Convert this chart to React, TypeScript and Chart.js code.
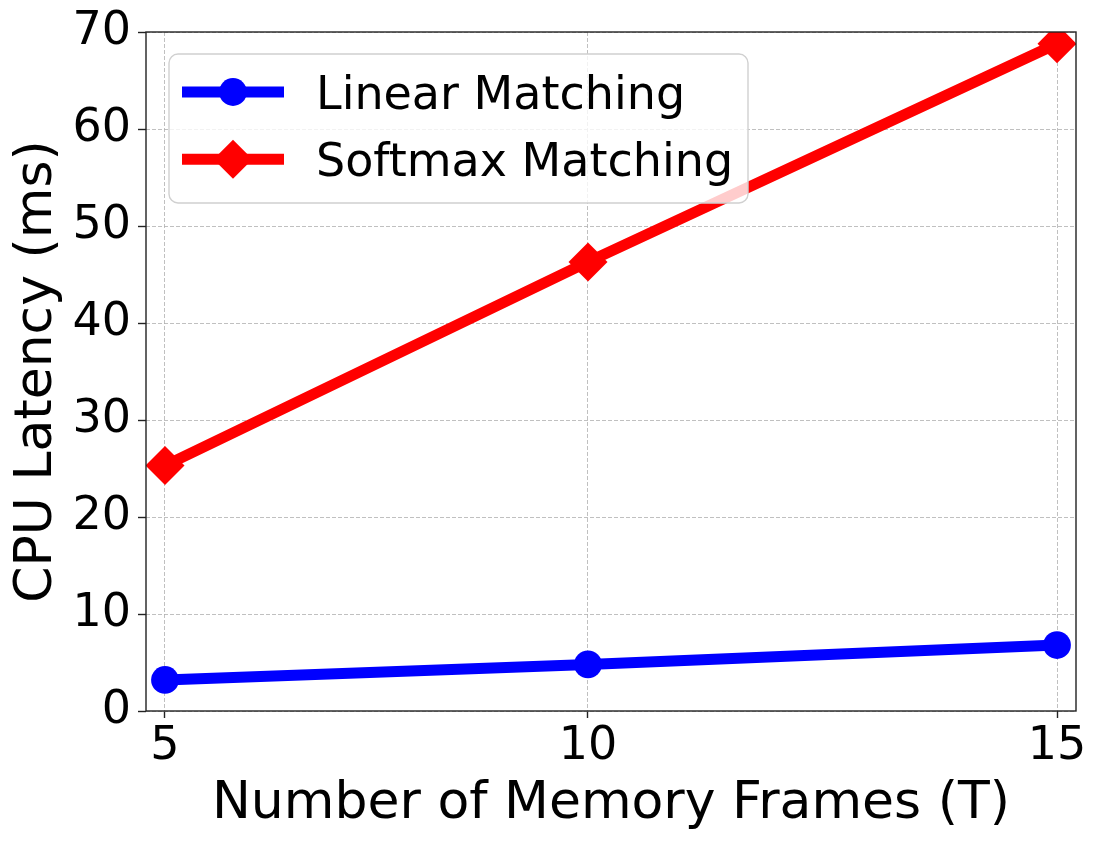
import React, { useEffect, useRef } from "react";
import { Chart, registerables } from "chart.js";

Chart.register(...registerables);

// ---- data ----
const frameLabels = ["5", "10", "15"];
// positions of the three frame counts on the (linear) x axis
const framePositions = [5, 9.742, 15];
const linearMatching = [3.2, 4.8, 6.8];
const softmaxMatching = [25.3, 46.3, 68.8];
const seriesNames = ["Linear Matching", "Softmax Matching"];
const xTitle = "Number of Memory Frames (T)";
const yTitle = "CPU Latency (ms)";

const FONT = "'DejaVu Sans', 'Liberation Sans', sans-serif";

const framePlugin = {
  id: "frameAndLegend",
  afterDatasetsDraw(chart: any) {
    const { ctx, chartArea } = chart;
    const { left, top, right, bottom } = chartArea;
    ctx.save();
    // spines
    ctx.strokeStyle = "#222222";
    ctx.lineWidth = 1.4;
    ctx.setLineDash([]);
    ctx.strokeRect(left, top, right - left, bottom - top);

    // legend box
    const bx = left + 23;
    const by = top + 22;
    const bw = 579;
    const bh = 149;
    const r = 9;
    ctx.beginPath();
    ctx.moveTo(bx + r, by);
    ctx.lineTo(bx + bw - r, by);
    ctx.arcTo(bx + bw, by, bx + bw, by + r, r);
    ctx.lineTo(bx + bw, by + bh - r);
    ctx.arcTo(bx + bw, by + bh, bx + bw - r, by + bh, r);
    ctx.lineTo(bx + r, by + bh);
    ctx.arcTo(bx, by + bh, bx, by + bh - r, r);
    ctx.lineTo(bx, by + r);
    ctx.arcTo(bx, by, bx + r, by, r);
    ctx.closePath();
    ctx.fillStyle = "rgba(255,255,255,0.8)";
    ctx.fill();
    ctx.strokeStyle = "#d0d0d0";
    ctx.lineWidth = 1.4;
    ctx.stroke();

    chart.data.datasets.forEach((ds: any, i: number) => {
      const rowY = by + 38 + i * 67.3;
      const x0 = bx + 13;
      const x1 = bx + 115;
      const mx = bx + 64;
      ctx.strokeStyle = ds.borderColor;
      ctx.lineWidth = ds.borderWidth;
      ctx.lineCap = "butt";
      ctx.beginPath();
      ctx.moveTo(x0, rowY);
      ctx.lineTo(x1, rowY);
      ctx.stroke();
      ctx.fillStyle = ds.pointBackgroundColor;
      ctx.beginPath();
      const pr = ds.pointRadius;
      if (ds.pointStyle === "rectRot") {
        ctx.moveTo(mx - pr, rowY);
        ctx.lineTo(mx, rowY - pr);
        ctx.lineTo(mx + pr, rowY);
        ctx.lineTo(mx, rowY + pr);
        ctx.closePath();
      } else {
        ctx.arc(mx, rowY, pr, 0, Math.PI * 2);
      }
      ctx.fill();
      ctx.fillStyle = "#000000";
      ctx.font = `46px ${FONT}`;
      ctx.textAlign = "left";
      ctx.textBaseline = "alphabetic";
      ctx.fillText(ds.label, bx + 147, rowY + 16.8);
    });
    ctx.restore();
  },
};

export default function App() {
  const canvasRef = useRef<HTMLCanvasElement | null>(null);

  useEffect(() => {
    if (!canvasRef.current) return;
    const chart = new Chart(canvasRef.current, {
      type: "line",
      data: {
        datasets: [
          {
            label: seriesNames[0],
            data: framePositions.map((x, i) => ({ x, y: linearMatching[i] })),
            borderColor: "#0000ff",
            backgroundColor: "#0000ff",
            borderWidth: 11,
            pointStyle: "circle",
            pointRadius: 13.9,
            pointBackgroundColor: "#0000ff",
            pointBorderWidth: 0,
            tension: 0,
            clip: 0,
          },
          {
            label: seriesNames[1],
            data: framePositions.map((x, i) => ({ x, y: softmaxMatching[i] })),
            borderColor: "#ff0000",
            backgroundColor: "#ff0000",
            borderWidth: 11,
            pointStyle: "rectRot",
            pointRadius: 19.5,
            pointBackgroundColor: "#ff0000",
            pointBorderWidth: 0,
            tension: 0,
            clip: 0,
          },
        ] as any,
      },
      options: {
        responsive: false,
        animation: false,
        events: [],
        layout: { padding: { left: 0, top: 32, right: 25, bottom: 0 } },
        plugins: {
          legend: { display: false },
          tooltip: { enabled: false },
        },
        scales: {
          x: {
            type: "linear",
            min: 4.787,
            max: 15.213,
            afterBuildTicks: (scale: any) => {
              scale.ticks = framePositions.map((v) => ({ value: v }));
            },
            afterFit: (scale: any) => {
              scale.height = 133;
            },
            ticks: {
              autoSkip: false,
              maxRotation: 0,
              minRotation: 0,
              padding: 6,
              color: "#000000",
              font: { family: FONT, size: 46, lineHeight: 1 },
              callback: (_v: any, i: number) => frameLabels[i],
            },
            grid: {
              color: "#b0b0b0",
              lineWidth: 0.8,
              tickLength: 7,
              tickColor: "#222222",
              tickWidth: 1.4,
              tickBorderDash: [],
            },
            border: { display: false, dash: [4, 2] },
            title: {
              display: true,
              text: xTitle,
              color: "#000000",
              font: { family: FONT, size: 52, lineHeight: 1 },
              padding: { top: 0, bottom: 13.5 },
            },
          },
          y: {
            type: "linear",
            min: 0,
            max: 70,
            afterFit: (scale: any) => {
              scale.width = 146;
            },
            ticks: {
              stepSize: 10,
              padding: 7,
              color: "#000000",
              font: { family: FONT, size: 46, lineHeight: 1 },
            },
            grid: {
              color: "#b0b0b0",
              lineWidth: 0.8,
              tickLength: 8,
              tickColor: "#222222",
              tickWidth: 1.4,
              tickBorderDash: [],
            },
            border: { display: false, dash: [4, 2] },
            title: {
              display: true,
              text: yTitle,
              color: "#000000",
              font: { family: FONT, size: 52, lineHeight: 1 },
              padding: { top: 11.5, bottom: 0 },
            },
          },
        },
      } as any,
      plugins: [framePlugin],
    });
    return () => chart.destroy();
  }, []);

  return (
    <canvas
      ref={canvasRef}
      width={1101}
      height={844}
      style={{ position: "fixed", left: 0, top: 0, display: "block" }}
    />
  );
}
